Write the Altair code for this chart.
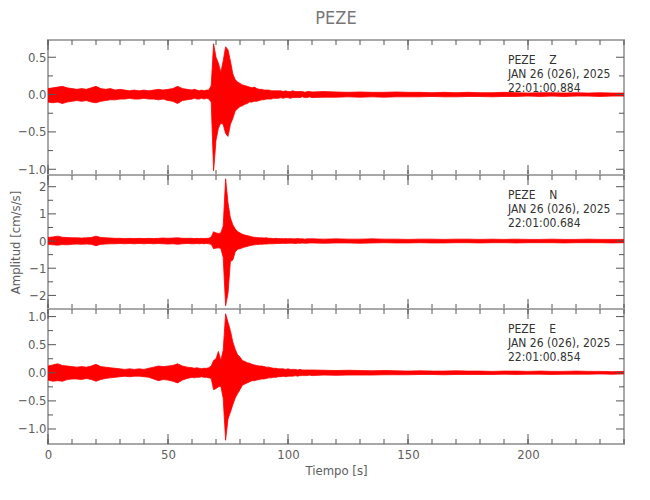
import altair as alt
import pandas as pd

# sampling grid of the envelope (s)
TIME = list(range(0, 60, 2)) + list(range(60, 110)) + list(range(110, 241, 5))

# ---- Z component envelope (cm/s/s)
Z_HI = [0.08, 0.09, 0.10, 0.11, 0.09, 0.08, 0.07, 0.08, 0.07, 0.09, 0.11, 0.08, 0.07, 0.08, 0.06,
        0.07, 0.06, 0.05, 0.06, 0.05, 0.06, 0.05, 0.06, 0.07, 0.06, 0.07, 0.08, 0.11, 0.08, 0.07,
        0.06, 0.07, 0.06, 0.05, 0.06, 0.05, 0.06, 0.06, 0.12, 0.68,
        0.50, 0.42, 0.30, 0.45, 0.64, 0.60, 0.45, 0.28, 0.20, 0.17,
        0.15, 0.13, 0.12, 0.11, 0.10, 0.09, 0.10, 0.08, 0.07, 0.07,
        0.06, 0.06, 0.06, 0.05, 0.05, 0.05, 0.05, 0.05, 0.04, 0.05,
        0.04, 0.04, 0.05, 0.04, 0.04, 0.04, 0.04, 0.03, 0.04, 0.04,
        0.035, 0.04, 0.035, 0.03, 0.035, 0.03, 0.03, 0.035, 0.03, 0.03, 0.025, 0.03, 0.025, 0.03,
        0.025, 0.025, 0.03, 0.025, 0.02, 0.025, 0.025, 0.02, 0.025, 0.02, 0.025, 0.02, 0.02]
Z_LO = [-0.10, -0.11, -0.10, -0.12, -0.10, -0.09, -0.08, -0.09, -0.08, -0.10, -0.11, -0.09, -0.08, -0.07, -0.07,
        -0.06, -0.06, -0.05, -0.06, -0.06, -0.05, -0.06, -0.06, -0.07, -0.06, -0.08, -0.09, -0.12, -0.08, -0.07,
        -0.06, -0.05, -0.06, -0.06, -0.05, -0.06, -0.05, -0.06, -0.10, -1.02,
        -0.61, -0.45, -0.38, -0.40, -0.52, -0.56, -0.40, -0.32, -0.22, -0.19,
        -0.16, -0.15, -0.13, -0.12, -0.10, -0.10, -0.09, -0.09, -0.08, -0.07,
        -0.07, -0.06, -0.06, -0.06, -0.05, -0.05, -0.05, -0.04, -0.05, -0.04,
        -0.04, -0.05, -0.04, -0.04, -0.04, -0.04, -0.03, -0.04, -0.04, -0.03,
        -0.04, -0.035, -0.035, -0.03, -0.035, -0.03, -0.035, -0.03, -0.03, -0.03, -0.025, -0.03, -0.03, -0.025,
        -0.025, -0.03, -0.025, -0.025, -0.02, -0.025, -0.02, -0.025, -0.02, -0.02, -0.025, -0.02, -0.02]

# ---- N component envelope
N_HI = [0.13, 0.15, 0.18, 0.14, 0.13, 0.12, 0.12, 0.11, 0.12, 0.13, 0.18, 0.13, 0.12, 0.11, 0.10,
        0.10, 0.09, 0.10, 0.09, 0.10, 0.09, 0.10, 0.09, 0.10, 0.11, 0.10, 0.11, 0.12, 0.10, 0.10,
        0.10, 0.09, 0.10, 0.09, 0.10, 0.09, 0.10, 0.10, 0.15, 0.34,
        0.30, 0.28, 0.30, 0.55, 2.29, 1.40, 0.85, 0.60, 0.45, 0.35,
        0.30, 0.25, 0.22, 0.20, 0.18, 0.15, 0.14, 0.13, 0.12, 0.12,
        0.11, 0.12, 0.10, 0.10, 0.09, 0.10, 0.09, 0.09, 0.08, 0.09,
        0.08, 0.09, 0.08, 0.08, 0.09, 0.08, 0.08, 0.07, 0.08, 0.08,
        0.08, 0.07, 0.08, 0.07, 0.07, 0.08, 0.07, 0.07, 0.06, 0.07, 0.07, 0.06, 0.07, 0.07,
        0.06, 0.07, 0.06, 0.07, 0.06, 0.06, 0.07, 0.06, 0.06, 0.07, 0.06, 0.06, 0.06]
N_LO = [-0.12, -0.14, -0.15, -0.13, -0.14, -0.12, -0.11, -0.12, -0.11, -0.12, -0.17, -0.12, -0.11, -0.10, -0.10,
        -0.09, -0.10, -0.09, -0.10, -0.09, -0.10, -0.09, -0.10, -0.09, -0.10, -0.11, -0.10, -0.12, -0.10, -0.09,
        -0.10, -0.10, -0.09, -0.10, -0.09, -0.10, -0.09, -0.10, -0.12, -0.28,
        -0.26, -0.25, -0.27, -0.60, -2.38, -1.92, -0.75, -0.70, -0.40, -0.30,
        -0.28, -0.25, -0.22, -0.20, -0.17, -0.15, -0.14, -0.13, -0.12, -0.12,
        -0.11, -0.11, -0.10, -0.10, -0.10, -0.09, -0.09, -0.09, -0.08, -0.09,
        -0.08, -0.08, -0.08, -0.09, -0.08, -0.08, -0.07, -0.08, -0.08, -0.07,
        -0.07, -0.08, -0.07, -0.07, -0.08, -0.07, -0.06, -0.07, -0.07, -0.06, -0.07, -0.07, -0.06, -0.06,
        -0.07, -0.06, -0.06, -0.07, -0.06, -0.06, -0.06, -0.07, -0.06, -0.06, -0.06, -0.07, -0.06]

# ---- E component envelope
E_HI = [0.12, 0.14, 0.16, 0.13, 0.12, 0.11, 0.10, 0.11, 0.10, 0.12, 0.15, 0.11, 0.10, 0.09, 0.08,
        0.07, 0.06, 0.07, 0.06, 0.07, 0.06, 0.08, 0.10, 0.12, 0.11, 0.12, 0.13, 0.16, 0.12, 0.10,
        0.09, 0.08, 0.09, 0.08, 0.07, 0.08, 0.08, 0.09, 0.12, 0.22,
        0.25, 0.38, 0.22, 0.40, 1.05, 0.90, 0.75, 0.55, 0.42, 0.32,
        0.28, 0.22, 0.20, 0.18, 0.17, 0.15, 0.14, 0.13, 0.12, 0.12,
        0.11, 0.10, 0.10, 0.09, 0.08, 0.08, 0.07, 0.07, 0.07, 0.06,
        0.07, 0.06, 0.06, 0.06, 0.05, 0.06, 0.05, 0.05, 0.05, 0.05,
        0.05, 0.045, 0.04, 0.045, 0.04, 0.035, 0.04, 0.035, 0.03, 0.035, 0.03, 0.03, 0.035, 0.03,
        0.03, 0.025, 0.03, 0.03, 0.025, 0.03, 0.025, 0.025, 0.03, 0.025, 0.025, 0.02, 0.025]
E_LO = [-0.13, -0.15, -0.14, -0.15, -0.12, -0.11, -0.11, -0.12, -0.10, -0.12, -0.15, -0.12, -0.10, -0.09, -0.08,
        -0.07, -0.06, -0.07, -0.06, -0.06, -0.07, -0.08, -0.11, -0.14, -0.12, -0.13, -0.15, -0.18, -0.13, -0.10,
        -0.08, -0.09, -0.08, -0.08, -0.07, -0.08, -0.08, -0.09, -0.10, -0.30,
        -0.28, -0.25, -0.24, -0.45, -1.20, -0.82, -0.70, -0.57, -0.45, -0.37,
        -0.30, -0.22, -0.20, -0.18, -0.16, -0.14, -0.14, -0.13, -0.12, -0.11,
        -0.11, -0.10, -0.09, -0.09, -0.08, -0.08, -0.07, -0.07, -0.06, -0.07,
        -0.06, -0.06, -0.06, -0.05, -0.06, -0.05, -0.05, -0.05, -0.05, -0.04,
        -0.05, -0.04, -0.045, -0.04, -0.04, -0.04, -0.035, -0.035, -0.035, -0.03, -0.03, -0.035, -0.03, -0.03,
        -0.03, -0.03, -0.025, -0.03, -0.025, -0.025, -0.03, -0.025, -0.025, -0.025, -0.02, -0.025, -0.02]

# ---- axes / ticks
X_LABELS = [0, 50, 100, 150, 200]
X_MINOR = [0, 10, 20, 30, 40, 50, 60, 70, 80, 90, 100, 110, 120, 130, 140, 150, 160, 170,
           180, 190, 200, 210, 220, 230, 240]
Z_LABELS = [0.5, 0.0, -0.5, -1.0]
Z_MINOR = [0.25, -0.25, -0.75]
N_LABELS = [2, 1, 0, -1, -2]
N_MINOR = [1.5, 0.5, -0.5, -1.5]
E_LABELS = [1.0, 0.5, 0.0, -0.5, -1.0]
E_MINOR = [0.75, 0.25, -0.25, -0.75]

STATION = "PEZE"
DATE = "JAN 26 (026), 2025"
COMPONENTS = ["Z", "N", "E"]
START_TIMES = ["22:01:00.884", "22:01:00.684", "22:01:00.854"]

FONT = "Liberation Sans Narrow, DejaVu Sans Condensed, Liberation Sans, sans-serif"
W = 576
TICK = "#555555"
GRAYTXT = "#5e5e5e"


def panel(hi, lo, dom, labels, minor, fmt, h, comp, tstr, bottom=False, ytitle=None, title=None):
    df = pd.DataFrame({"t": TIME, "hi": hi, "lo": lo})
    xs = alt.Scale(domain=[0, 240], nice=False, zero=False)
    ys = alt.Scale(domain=dom, nice=False, zero=False)
    if bottom:
        xaxis = alt.Axis(values=X_LABELS, format="d", ticks=False, tickSize=0, domain=False,
                         grid=False, labelPadding=4, labelFlush=False, title="Tiempo [s]",
                         titlePadding=3)
    else:
        xaxis = None
    yaxis = alt.Axis(values=labels, format=fmt, ticks=False, tickSize=0, domain=False, grid=False,
                     labelPadding=2, labelFlush=False, minExtent=22, maxExtent=22,
                     title=ytitle, titlePadding=4)
    area = alt.Chart(df).mark_area(color="#ff0000", opacity=1, interpolate="linear",
                                   clip=True, stroke="#ff0000", strokeWidth=0.8).encode(
        x=alt.X("t:Q", scale=xs, axis=xaxis),
        y=alt.Y("hi:Q", scale=ys, axis=yaxis),
        y2="lo:Q",
    )
    layers = [area]
    xmin = pd.DataFrame({"t": X_MINOR})
    xmaj = pd.DataFrame({"t": X_LABELS})
    for d, ln in ((xmin, 5), (xmaj, 10)):
        layers.append(alt.Chart(d).mark_rule(color=TICK, strokeWidth=1).encode(
            x=alt.X("t:Q", scale=xs, axis=xaxis), y=alt.value(0), y2=alt.value(ln)))
        layers.append(alt.Chart(d).mark_rule(color=TICK, strokeWidth=1).encode(
            x=alt.X("t:Q", scale=xs, axis=xaxis), y=alt.value(h), y2=alt.value(h - ln)))
    ymin = pd.DataFrame({"v": minor})
    ymaj = pd.DataFrame({"v": labels})
    for d, ln in ((ymin, 5), (ymaj, 8)):
        layers.append(alt.Chart(d).mark_rule(color=TICK, strokeWidth=1).encode(
            y=alt.Y("v:Q", scale=ys, axis=yaxis), x=alt.value(0), x2=alt.value(ln)))
        layers.append(alt.Chart(d).mark_rule(color=TICK, strokeWidth=1).encode(
            y=alt.Y("v:Q", scale=ys, axis=yaxis), x=alt.value(W), x2=alt.value(W - ln)))
    txt = alt.Chart(pd.DataFrame({"a": [0]})).mark_text(
        text=[STATION + "\u00a0\u00a0\u00a0\u00a0" + comp, DATE, tstr],
        align="left", baseline="top", lineHeight=14.2, fontSize=12, font=FONT, color="#333333",
    ).encode(x=alt.value(460), y=alt.value(15))
    layers.append(txt)
    props = dict(width=W, height=h)
    if title:
        props["title"] = alt.TitleParams(title, anchor="middle", frame="group", fontSize=18,
                                         font=FONT, color="#777777", fontWeight="normal", offset=12)
    return alt.layer(*layers).properties(**props)


p1 = panel(Z_HI, Z_LO, [-1.077, 0.731], Z_LABELS, Z_MINOR, ".1f", 135, COMPONENTS[0],
           START_TIMES[0], title=STATION)
p2 = panel(N_HI, N_LO, [-2.50, 2.43], N_LABELS, N_MINOR, "d", 134, COMPONENTS[1],
           START_TIMES[1], ytitle="Amplitud [cm/s/s]")
p3 = panel(E_HI, E_LO, [-1.267, 1.135], E_LABELS, E_MINOR, ".1f", 135, COMPONENTS[2],
           START_TIMES[2], bottom=True)

chart = alt.vconcat(p1, p2, p3, spacing=0, bounds="flush").properties(
    padding={"left": 0, "top": 0, "right": 8, "bottom": 4}
).configure_view(
    stroke="#a8a8a8", strokeWidth=2
).configure_axis(
    labelFont=FONT, titleFont=FONT, labelColor=GRAYTXT, titleColor=GRAYTXT,
    labelFontSize=13, titleFontSize=13, titleFontWeight="normal"
)

chart.save("out.html", embed_options={"renderer": "svg", "actions": False})
